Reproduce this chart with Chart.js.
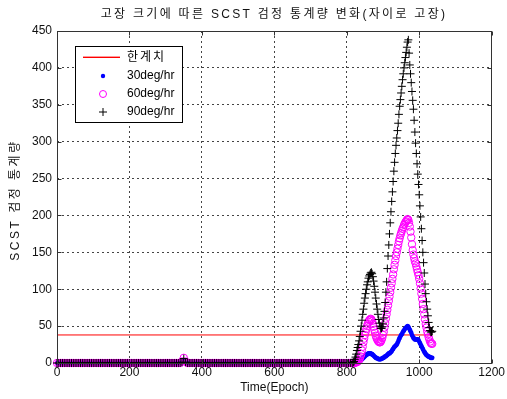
<!DOCTYPE html>
<html><head><meta charset="utf-8">
<script src="https://cdn.jsdelivr.net/npm/chart.js@4"></script>
<style>html,body{margin:0;padding:0;background:#fff;}canvas{display:block;}</style>
</head><body>
<canvas id="c" width="507" height="399"></canvas>
<script>
const titleText = '고장 크기에 따른 SCST 검정 통계량 변화(자이로 고장)';
const xTitle = 'Time(Epoch)';
const yTitle = 'SCST 검정 통계량';
const legendLabels = ['한계치', '30deg/hr', '60deg/hr', '90deg/hr'];
const xTicks = [0, 200, 400, 600, 800, 1000, 1200];
const yTicks = [0, 50, 100, 150, 200, 250, 300, 350, 400, 450];
const thresholdValue = 38;
const thresholdEpochs = [0, 1036];

const flatEpochs = [
  0,5,10,15,20,25,30,35,40,45,50,55,60,65,70,75,80,85,90,95,
  100,105,110,115,120,125,130,135,140,145,150,155,160,165,170,175,180,185,190,195,
  200,205,210,215,220,225,230,235,240,245,250,255,260,265,270,275,280,285,290,295,
  300,305,310,315,320,325,330,335,340,345,350,355,360,365,370,375,380,385,390,395,
  400,405,410,415,420,425,430,435,440,445,450,455,460,465,470,475,480,485,490,495,
  500,505,510,515,520,525,530,535,540,545,550,555,560,565,570,575,580,585,590,595,
  600,605,610,615,620,625,630,635,640,645,650,655,660,665,670,675,680,685,690,695,
  700,705,710,715,720,725,730,735,740,745,750,755,760,765,770,775,780,785,790,795,
  800,805,810,815
];
const riseEpochs = [
  818,820,822,824,826,828,830,832,834,836,
  838,840,842,844,846,848,850,852,854,856,
  858,860,862,864,866,868,870,872,874,876,
  878,880,882,884,886,888,890,892,894,896,
  898,900,902,904,906,908,910,912,914,916,
  918,920,922,924,926,928,930,932,934,936,
  938,940,942,944,946,948,950,952,954,956,
  958,960,962,964,966,968,970,972,974,976,
  978,980,982,984,986,988,990,992,994,996,
  998,1000,1002,1004,1006,1008,1010,1012,1014,1016,
  1018,1020,1022,1024,1026,1028,1030,1032,1034,1036
];

const flat30 = [
  0,0,0,0,0,0,0,0,0,0,0,0,0,0,0,0,0,0,0,0,
  0,0,0,0,0,0,0,0,0,0,0,0,0,0,0,0,0,0,0,0,
  0,0,0,0,0,0,0,0,0,0,0,0,0,0,0,0,0,0,0,0,
  0,0,0,0,0,0,0,0,0,1,4,1,0,0,0,0,0,0,0,0,
  0,0,0,0,0,0,0,0,0,0,0,0,0,0,0,0,0,0,0,0,
  0,0,0,0,0,0,0,0,0,0,0,0,0,0,0,0,0,0,0,0,
  0,0,0,0,0,0,0,0,0,0,0,0,0,0,0,0,0,0,0,0,
  0,0,0,0,0,0,0,0,0,0,0,0,0,0,0,0,0,0,0,0,
  0,0,0,0
];
const rise30 = [
  0,0,0,0,0,0,0,1,1,2,
  3,4,5,6,7,8,9,10,11,12,
  12,13,13,13,13,12,12,11,10,9,
  8,7,7,6,6,5,5,5,5,6,
  6,7,7,8,9,9,10,11,12,13,
  13,14,15,16,18,19,21,22,23,24,
  25,27,29,32,34,36,38,39,41,43,
  44,46,47,48,49,50,49,47,45,43,
  41,38,36,34,33,32,32,32,32,32,
  31,29,27,25,23,21,19,17,15,14,
  12,11,10,9,9,8,8,7,7,7
];

const flat60 = [
  0,0,0,0,0,0,0,0,0,0,0,0,0,0,0,0,0,0,0,0,
  0,0,0,0,0,0,0,0,0,0,0,0,0,0,0,0,0,0,0,0,
  0,0,0,0,0,0,0,0,0,0,0,0,0,0,0,0,0,0,0,0,
  0,0,0,0,0,0,0,0,0,2,7,2,0,0,0,0,0,0,0,0,
  0,0,0,0,0,0,0,0,0,0,0,0,0,0,0,0,0,0,0,0,
  0,0,0,0,0,0,0,0,0,0,0,0,0,0,0,0,0,0,0,0,
  0,0,0,0,0,0,0,0,0,0,0,0,0,0,0,0,0,0,0,0,
  0,0,0,0,0,0,0,0,0,0,0,0,0,0,0,0,0,0,0,0,
  0,0,0,0
];
const rise60 = [
  0,0,0,1,1,1,2,3,4,6,
  9,12,17,22,28,33,38,42,46,50,
  53,56,58,59,60,59,57,53,49,45,
  41,37,34,32,30,29,28,28,29,31,
  34,38,42,48,54,60,66,72,78,84,
  90,96,102,108,114,120,127,133,139,145,
  150,155,160,165,169,173,176,179,182,184,
  187,189,191,192,194,195,194,190,185,178,
  170,161,153,147,142,138,135,131,127,123,
  119,114,108,101,94,87,80,73,66,59,
  53,48,43,39,35,32,29,27,26,26
];

const flat90 = [
  0,0,0,0,0,0,0,0,0,0,0,0,0,0,0,0,0,0,0,0,
  0,0,0,0,0,0,0,0,0,0,0,0,0,0,0,0,0,0,0,0,
  0,0,0,0,0,0,0,0,0,0,0,0,0,0,0,0,0,0,0,0,
  0,0,0,0,0,0,0,0,0,1,6,1,0,0,0,0,0,0,0,0,
  0,0,0,0,0,0,0,0,0,0,0,0,0,0,0,0,0,0,0,0,
  0,0,0,0,0,0,0,0,0,0,0,0,0,0,0,0,0,0,0,0,
  0,0,0,0,0,0,0,0,0,0,0,0,0,0,0,0,0,0,0,0,
  0,0,0,0,0,0,0,0,0,0,0,0,0,0,0,0,0,0,0,0,
  0,0,0,0
];
const rise90 = [
  1,2,5,8,12,17,21,25,30,36,
  43,50,58,66,73,81,88,94,100,106,
  110,115,118,120,122,123,121,117,111,104,
  96,88,80,73,66,59,54,50,47,47,
  49,53,61,70,82,96,110,128,145,160,
  175,190,205,219,232,246,260,272,284,295,
  305,315,325,337,348,357,366,375,384,392,
  400,407,414,421,428,435,438,420,404,392,
  380,368,356,344,329,313,298,284,270,256,
  242,228,213,198,182,166,150,136,122,107,
  94,83,73,64,55,48,44,42,42,43
];

const epochs = flatEpochs.concat(riseEpochs);
const toPts = (xs, ys) => xs.map((x, i) => ({x: x, y: ys[i]}));

const FONT = "'Liberation Sans', 'Noto Sans CJK KR', sans-serif";

const decor = {
  id: 'decor',
  afterDraw(chart) {
    const {ctx, chartArea: a, scales: {x, y}} = chart;
    const L = Math.round(a.left) + 0.5, R = Math.round(a.right) - 0.5;
    const T = Math.round(a.top) + 0.5, B = Math.round(a.bottom) + 0.5;
    ctx.save();
    ctx.setLineDash([]);
    ctx.strokeStyle = '#333';
    ctx.lineWidth = 1;
    ctx.strokeRect(L, T, R - L, B - T);
    ctx.beginPath();
    xTicks.forEach(v => {
      const p = Math.round(x.getPixelForValue(v)) + 0.5;
      ctx.moveTo(p, B); ctx.lineTo(p, B - 4);
      ctx.moveTo(p, T); ctx.lineTo(p, T + 4);
    });
    yTicks.forEach(v => {
      const p = Math.round(y.getPixelForValue(v)) + 0.5;
      ctx.moveTo(L, p); ctx.lineTo(L + 4, p);
      ctx.moveTo(R, p); ctx.lineTo(R - 4, p);
    });
    ctx.stroke();

    // title
    ctx.fillStyle = '#111';
    ctx.font = '12px ' + FONT;
    ctx.textAlign = 'center';
    ctx.textBaseline = 'middle';
    ctx.letterSpacing = '2.3px';
    ctx.fillText(titleText, 274, 15);

    // y axis title
    ctx.save();
    ctx.translate(16, 200);
    ctx.rotate(-Math.PI / 2);
    ctx.letterSpacing = '2.5px';
    ctx.fillText(yTitle, 0, 0);
    ctx.restore();

    // legend
    ctx.letterSpacing = '0px';
    ctx.fillStyle = '#fff';
    ctx.fillRect(75.5, 46.5, 107, 76);
    ctx.strokeStyle = '#000';
    ctx.strokeRect(75.5, 46.5, 107, 76);
    const rows = [57.5, 76, 94, 112];
    const mx = 103;
    ctx.fillStyle = '#ff0000';
    ctx.fillRect(83, 56.6, 37, 1.4);
    ctx.fillStyle = '#0000ff';
    ctx.beginPath(); ctx.arc(mx, rows[1], 2.2, 0, Math.PI * 2); ctx.fill();
    ctx.strokeStyle = '#ff00ff';
    ctx.beginPath(); ctx.arc(mx, rows[2], 3.5, 0, Math.PI * 2); ctx.stroke();
    ctx.strokeStyle = '#000';
    ctx.beginPath();
    ctx.moveTo(mx - 4, rows[3]); ctx.lineTo(mx + 4, rows[3]);
    ctx.moveTo(mx, rows[3] - 4); ctx.lineTo(mx, rows[3] + 4);
    ctx.stroke();
    ctx.fillStyle = '#000';
    ctx.textAlign = 'left';
    legendLabels.forEach((t, i) => {
      ctx.letterSpacing = i === 0 ? '2px' : '0px';
      ctx.fillText(t, 127, rows[i]);
    });
    ctx.restore();
  }
};

new Chart(document.getElementById('c'), {
  type: 'scatter',
  data: {
    datasets: [
      {label: legendLabels[3], data: toPts(epochs, flat90.concat(rise90)), pointStyle: 'cross',
       pointRadius: 4, borderColor: '#000', borderWidth: 1, order: 0, clip: false},
      {label: legendLabels[2], data: toPts(epochs, flat60.concat(rise60)), pointStyle: 'circle',
       pointRadius: 3.7, borderColor: '#ff00ff', backgroundColor: 'rgba(0,0,0,0)', borderWidth: 1, order: 1, clip: false},
      {label: legendLabels[1], data: toPts(epochs, flat30.concat(rise30)), pointStyle: 'circle',
       pointRadius: 2.3, borderColor: '#0000ff', backgroundColor: '#0000ff', borderWidth: 0, order: 2, clip: false},
      {label: legendLabels[0], data: toPts(thresholdEpochs, [thresholdValue, thresholdValue]), showLine: true,
       pointRadius: 0, borderColor: '#ff0000', borderWidth: 1, order: 3}
    ]
  },
  options: {
    responsive: false,
    animation: false,
    events: [],
    layout: {padding: {top: 31, right: 15, left: 0, bottom: 0}},
    plugins: {legend: {display: false}, tooltip: {enabled: false}, title: {display: false}},
    scales: {
      x: {
        type: 'linear', min: 0, max: 1200,
        afterBuildTicks: s => { s.ticks = xTicks.map(v => ({value: v})); },
        afterFit: s => { s.height = 36; },
        ticks: {color: '#111', font: {family: FONT, size: 12}, padding: 2, maxRotation: 0,
                callback: v => String(v)},
        grid: {color: '#444', drawTicks: false, lineWidth: 1},
        border: {display: false, dash: [2, 3]},
        title: {display: true, text: xTitle, color: '#111', font: {family: FONT, size: 12}, padding: {top: 0, bottom: 4}}
      },
      y: {
        type: 'linear', min: 0, max: 450,
        afterBuildTicks: s => { s.ticks = yTicks.map(v => ({value: v})); },
        afterFit: s => { s.width = 57; },
        ticks: {color: '#111', font: {family: FONT, size: 12}, padding: 5,
                callback: v => String(v)},
        grid: {color: '#444', drawTicks: false, lineWidth: 1},
        border: {display: false, dash: [2, 3]},
        title: {display: false}
      }
    }
  },
  plugins: [decor]
});
</script>
</body></html>
